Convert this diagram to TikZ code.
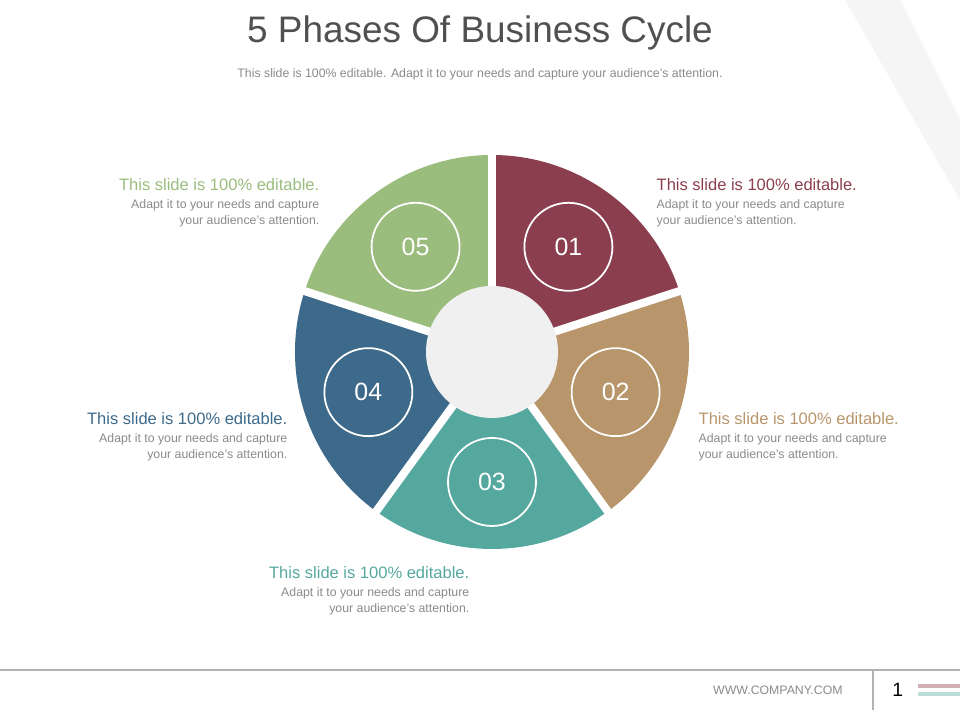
\documentclass[tikz,border=0pt]{standalone}
\usepackage{fontspec}
\setmainfont{Liberation Sans}
\usepackage{tikz}
\usetikzlibrary{positioning, calc}

\definecolor{cone}{HTML}{8B3E4E}
\definecolor{ctwo}{HTML}{B8956A}
\definecolor{cthree}{HTML}{55A89E}
\definecolor{cfour}{HTML}{3D6A8A}
\definecolor{cfive}{HTML}{9ABD7E}
\definecolor{txtgray}{HTML}{8A8A8A}
\definecolor{titlegray}{HTML}{505050}

\begin{document}
\begin{tikzpicture}[
    numcircle/.style={circle, draw=white, line width=0.5pt, minimum size=0.88cm, text=white, font=\fontsize{7.1}{8}\selectfont},
    head/.style={font=\fontsize{4.7}{5.5}\selectfont, inner sep=0pt},
    body/.style={font=\fontsize{3.5}{4.5}\selectfont, text=txtgray, inner sep=0pt},
    gap/.style={white, line width=2.3pt}
]
\useasboundingbox (0,0) rectangle (9.6,7.2);

% === BACKGROUND ===
\fill[gray!8] (8.45,7.2) -- (9.0,7.2) -- (9.6,6.0) -- (9.6,5.2) -- cycle;

% === TITLE ===
\node[text=titlegray, font=\fontsize{10.5}{12}\selectfont] (title) at (4.8,6.87) {5 Phases Of Business Cycle};
\node[text=txtgray, font=\fontsize{3.5}{4.2}\selectfont] (subtitle) at (4.8,6.46) {This slide is 100\% editable. Adapt it to your needs and capture your audience's attention.};

% === WEDGES ===
\coordinate (C) at (4.92,3.68);
\foreach \col/\a [count=\i] in {cone/90, ctwo/18, cthree/-54, cfour/-126, cfive/162} {
    \fill[\col] (C) -- ++(\a:1.97) arc[start angle=\a, end angle=\a-72, radius=1.97] -- cycle;
}
\foreach \a in {90, 18, -54, -126, 162} {
    \draw[gap] (C) -- ++(\a:2.05);
}
\fill[gray!12] (C) circle (0.66);

% === NUMBERS ===
\foreach \num/\m in {01/54, 02/-18, 03/-90, 04/-162, 05/126} {
    \node[numcircle] (n\num) at ($(C)+(\m:1.3)$) {\num};
}

% === LABELS ===
\node[head, text=cone, anchor=west] (h1) at (6.56,5.35) {This slide is 100\% editable.};
\node[body, align=left, below=0.07cm of h1.south west, anchor=north west] (b1) {Adapt it to your needs and capture\\your audience's attention.};

\node[head, text=ctwo, anchor=west] (h2) at (6.98,3.01) {This slide is 100\% editable.};
\node[body, align=left, below=0.07cm of h2.south west, anchor=north west] (b2) {Adapt it to your needs and capture\\your audience's attention.};

\node[head, text=cthree, anchor=east] (h3) at (4.70,1.47) {This slide is 100\% editable.};
\node[body, align=right, below=0.07cm of h3.south east, anchor=north east] (b3) {Adapt it to your needs and capture\\your audience's attention.};

\node[head, text=cfour, anchor=east] (h4) at (2.88,3.01) {This slide is 100\% editable.};
\node[body, align=right, below=0.07cm of h4.south east, anchor=north east] (b4) {Adapt it to your needs and capture\\your audience's attention.};

\node[head, text=cfive, anchor=east] (h5) at (3.20,5.35) {This slide is 100\% editable.};
\node[body, align=right, below=0.07cm of h5.south east, anchor=north east] (b5) {Adapt it to your needs and capture\\your audience's attention.};

% === FOOTER ===
\draw[gray!60, line width=0.4pt] (0,0.5) -- (9.6,0.5);
\draw[gray!60, line width=0.4pt] (8.73,0.5) -- (8.73,0.1);
\node[text=txtgray, font=\fontsize{3.5}{4}\selectfont, anchor=east] (web) at (8.55,0.3) {WWW.COMPANY.COM};
\node[font=\fontsize{5.5}{6}\selectfont, anchor=west] (page) at (8.8,0.3) {1};
\draw[red!25!gray!50, line width=1pt] (9.18,0.34) -- (9.6,0.34);
\draw[cthree!40, line width=1pt] (9.18,0.26) -- (9.6,0.26);
\end{tikzpicture}
\end{document}
